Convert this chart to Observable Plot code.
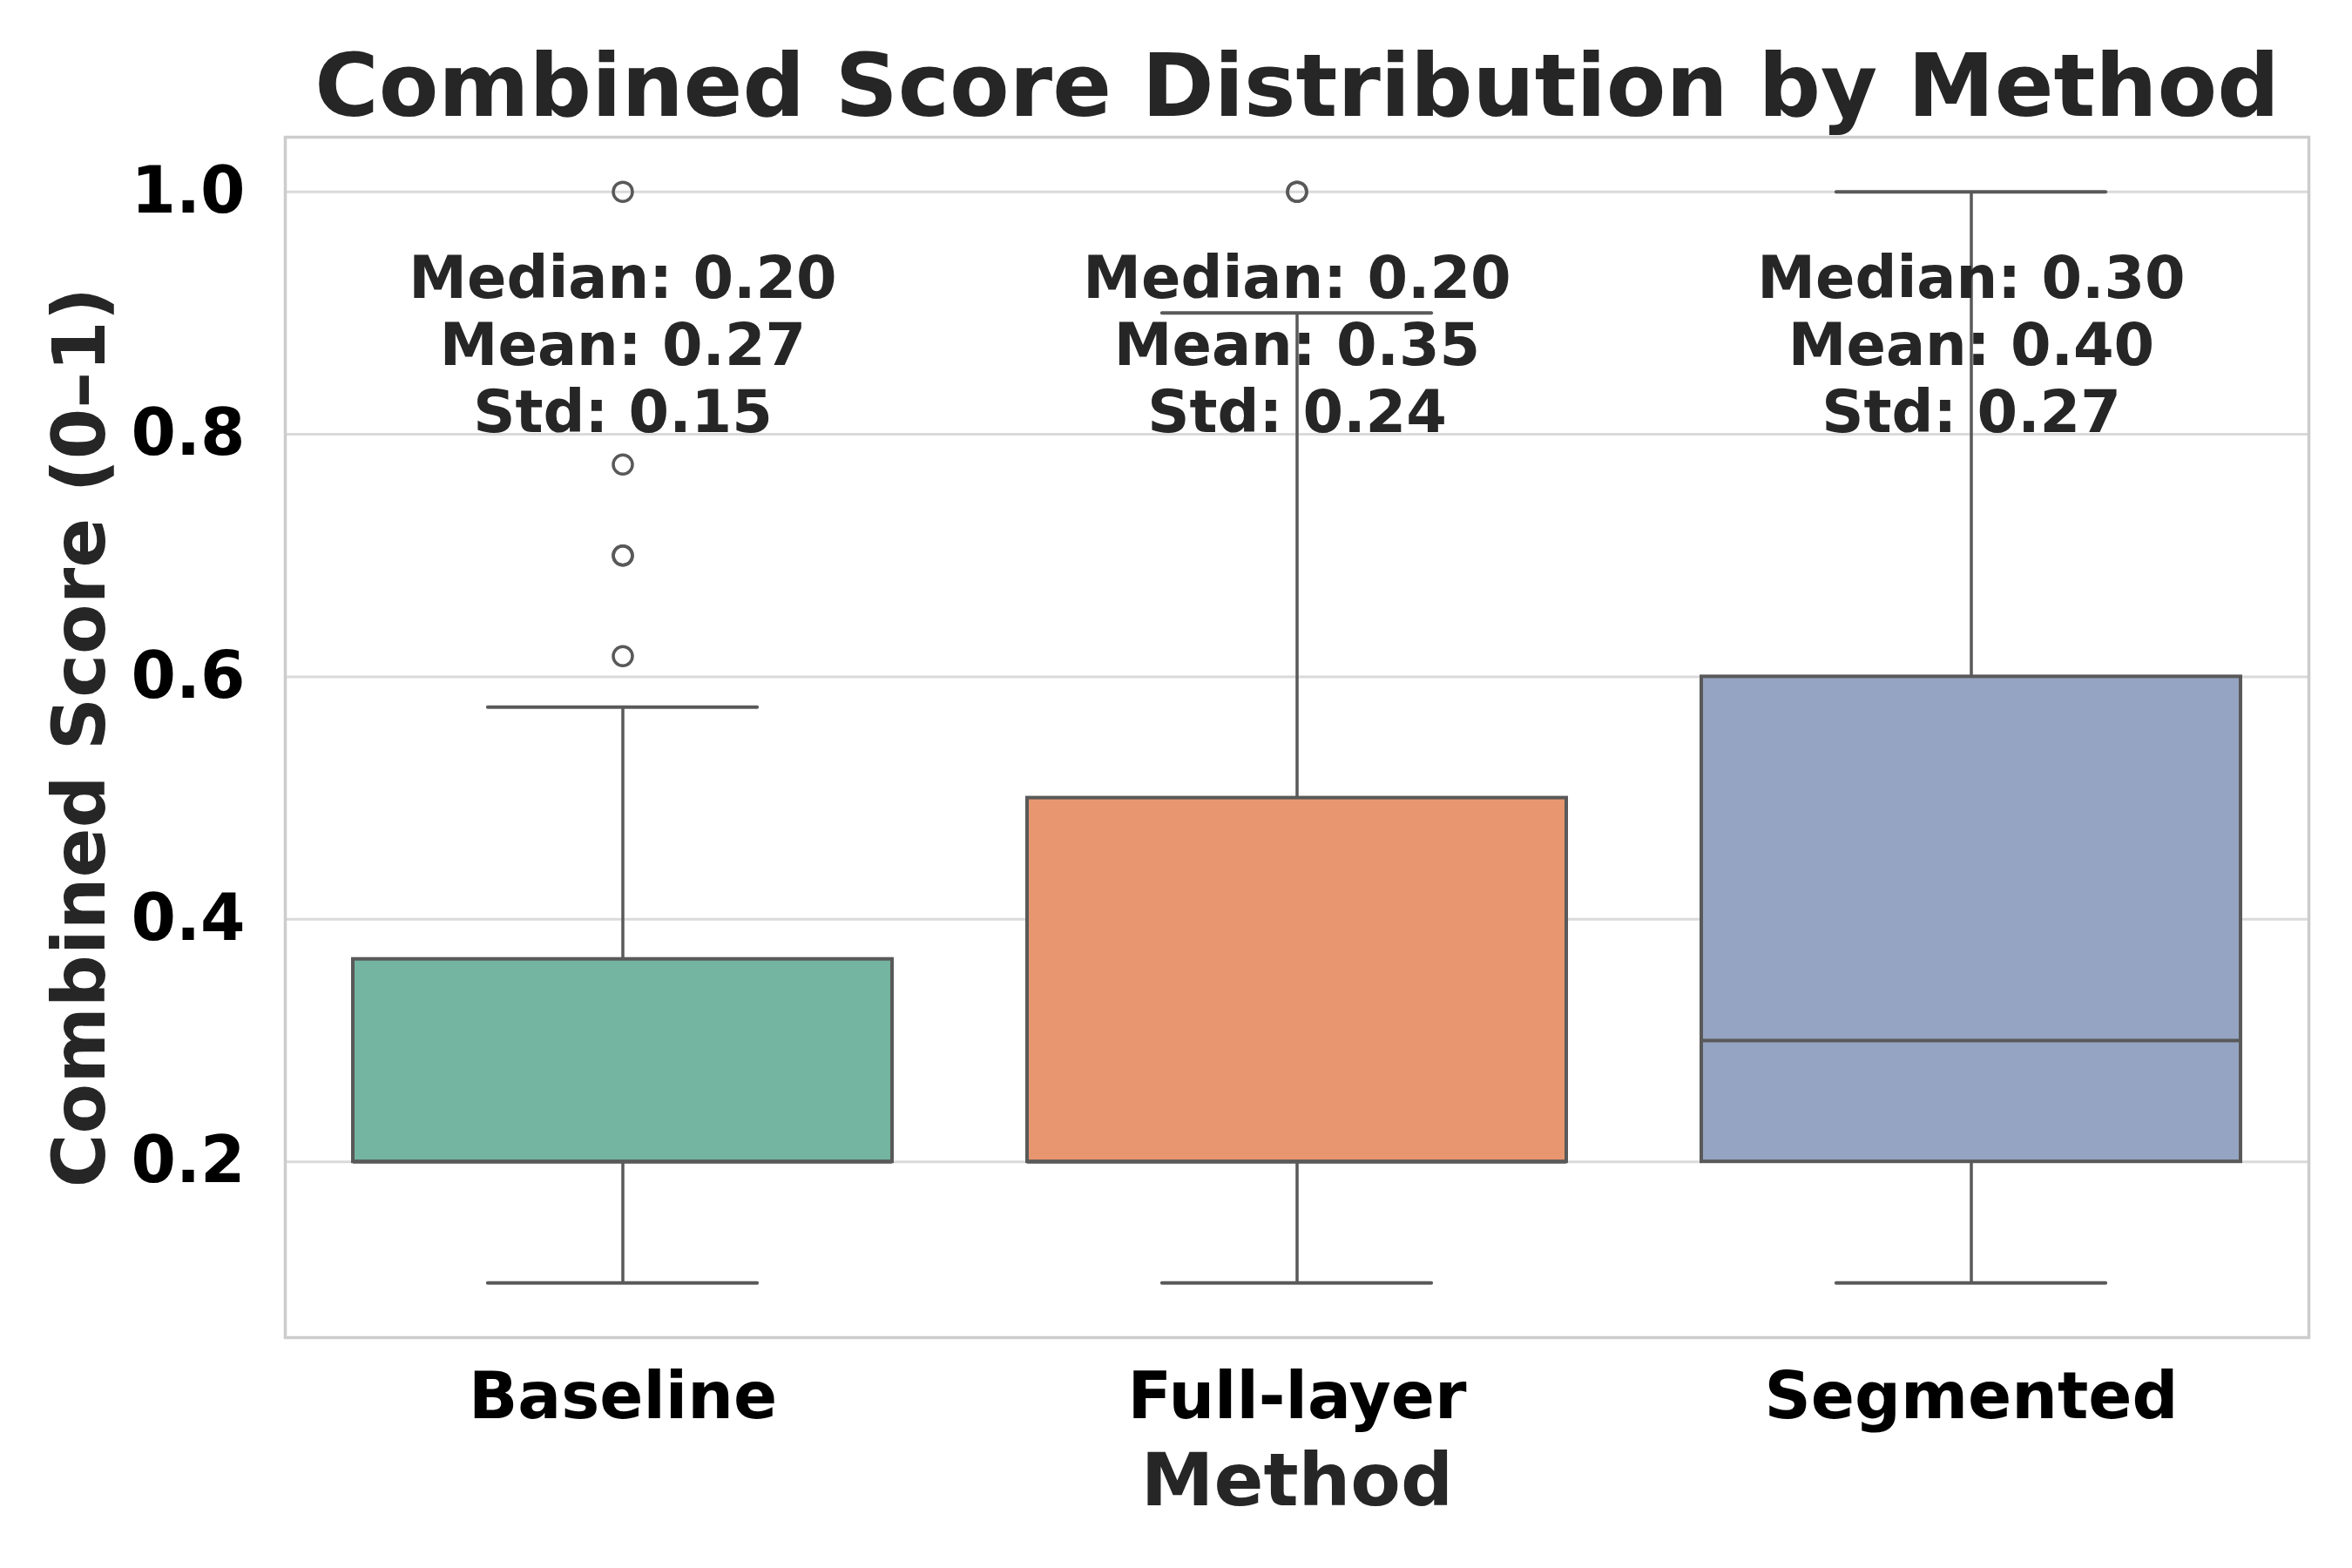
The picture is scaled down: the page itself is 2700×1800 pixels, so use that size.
<!DOCTYPE html>
<html>
<head>
<meta charset="utf-8">
<script src="https://cdn.jsdelivr.net/npm/d3@7"></script>
<script src="https://cdn.jsdelivr.net/npm/@observablehq/plot@0.6"></script>
<style>
  html, body { margin: 0; padding: 0; background: white; }
  #chart svg { display: block; }
</style>
</head>
<body>
<div id="chart"></div>
<script>
// ---- Data ----
const methods = ["Baseline", "Full-layer", "Segmented"];
const whiskerLow = [0.1, 0.1, 0.1];
const q1 = [0.2, 0.2, 0.2];
const medians = [0.2, 0.2, 0.3];
const q3 = [0.367, 0.5, 0.6];
const whiskerHigh = [0.575, 0.9, 1.0];
const means = [0.27, 0.35, 0.40];
const stds = [0.15, 0.24, 0.27];
const outlierMethod = ["Baseline", "Baseline", "Baseline", "Baseline", "Baseline", "Full-layer", "Full-layer"];
const outlierValue = [0.617, 0.7, 0.7, 0.775, 1.0, 1.0, 1.0];
const yTicks = [0.2, 0.4, 0.6, 0.8, 1.0];
const titleText = "Combined Score Distribution by Method";
const yLabel = "Combined Score (0\u20131)";
const xLabel = "Method";

// ---- Styles ----
const palette = ["#73b5a0", "#e8966f", "#95a4c2"];
const lineColor = "#595959";
const textColor = "#262626";
const font = "DejaVu Sans";

const boxes = methods.map((m, i) => ({
  method: m, lo: whiskerLow[i], q1: q1[i], med: medians[i], q3: q3[i], hi: whiskerHigh[i],
  label: `Median: ${medians[i].toFixed(2)}\nMean: ${means[i].toFixed(2)}\nStd: ${stds[i].toFixed(2)}`
}));
const outliers = outlierMethod.map((m, i) => ({method: m, value: outlierValue[i]}));

const W = 2700, H = 1800;
const mL = 327, mR = 50, mT = 157, mB = 265;
const bandW = (W - mL - mR) / 3 * 0.8;
const capInset = bandW / 4;

const chart = Plot.plot({
  width: W,
  height: H,
  marginLeft: mL,
  marginRight: mR,
  marginTop: mT,
  marginBottom: mB,
  style: {fontFamily: font, background: "white"},
  x: {type: "band", domain: methods, paddingInner: 0.2, paddingOuter: 0.1, label: null},
  y: {domain: [0.055, 1.045], label: null},
  color: {domain: methods, range: palette},
  marks: [
    Plot.gridY(yTicks, {stroke: "#dadada", strokeOpacity: 1, strokeWidth: 3}),
    // whiskers
    Plot.ruleX(boxes, {x: "method", y1: "lo", y2: "q1", stroke: lineColor, strokeWidth: 3.5}),
    Plot.ruleX(boxes, {x: "method", y1: "q3", y2: "hi", stroke: lineColor, strokeWidth: 3.5}),
    Plot.tickY(boxes, {x: "method", y: "lo", stroke: lineColor, strokeWidth: 4, strokeLinecap: "round", insetLeft: capInset, insetRight: capInset}),
    Plot.tickY(boxes, {x: "method", y: "hi", stroke: lineColor, strokeWidth: 4, strokeLinecap: "round", insetLeft: capInset, insetRight: capInset}),
    // boxes
    Plot.barY(boxes, {x: "method", y1: "q1", y2: "q3", fill: "method", stroke: lineColor, strokeWidth: 4}),
    Plot.tickY(boxes, {x: "method", y: "med", stroke: lineColor, strokeWidth: 4}),
    // outliers
    Plot.dot(outliers, {x: "method", y: "value", r: 11, stroke: lineColor, strokeWidth: 3.5, fill: "none"}),
    // annotations
    Plot.text(boxes, {x: "method", frameAnchor: "top", dy: 130, text: "label", lineAnchor: "top", lineHeight: 1.15,
      fontSize: 67, fontWeight: "bold", fill: textColor, textAnchor: "middle"}),
    // axes
    Plot.axisY(yTicks, {tickSize: 0, tickPadding: 46, fontSize: 74, fontWeight: "bold", color: "black", tickFormat: d => d.toFixed(1), label: null}),
    Plot.axisX({tickSize: 0, tickPadding: 40, fontSize: 74, fontWeight: "bold", color: "black", label: null}),
    Plot.frame({stroke: "#cccccc", strokeWidth: 3.5}),
    // title and axis labels
    Plot.text([titleText], {frameAnchor: "top", lineAnchor: "bottom", dy: -25, fontSize: 100, fontWeight: "bold", fill: textColor}),
    Plot.text([xLabel], {frameAnchor: "bottom", lineAnchor: "bottom", dy: 192, fontSize: 84, fontWeight: "bold", fill: textColor}),
    Plot.text([yLabel], {frameAnchor: "left", rotate: -90, dx: -234, lineAnchor: "middle", textAnchor: "middle", fontSize: 84, fontWeight: "bold", fill: textColor})
  ]
});
document.getElementById("chart").appendChild(chart);
</script>
</body>
</html>
